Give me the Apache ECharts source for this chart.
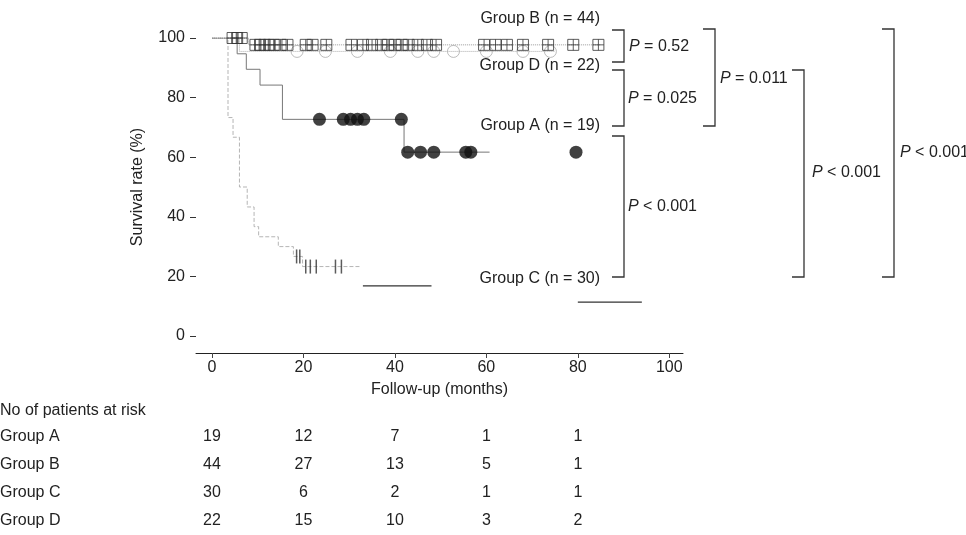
<!DOCTYPE html>
<html>
<head>
<meta charset="utf-8">
<script src="https://cdn.jsdelivr.net/npm/echarts@6.0.0/dist/echarts.min.js"></script>
<style>
  html, body { margin: 0; padding: 0; background: #fff; }
  #c { width: 966px; height: 535px; }
</style>
</head>
<body>
<div id="c"></div>
<script>
// ---- data ----
var xTicks = [0, 20, 40, 60, 80, 100];

// Kaplan-Meier steps [month, survival %]
var groupA = [[0, 100], [5.5, 94.7], [7.5, 89.5], [10.5, 84.2], [15.4, 72.7], [42, 61.7], [60.7, 61.7]];
var groupB = [[0, 100], [8, 97.7], [85, 97.7]];
var groupC = [[0, 100], [3.5, 73.3], [4.6, 66.7], [6, 50], [7.7, 43.3], [9.2, 36.7], [10.2, 33.3],
  [14.5, 30], [17.8, 26.7], [19.8, 23.3], [32.5, 23.3]];
var groupCLate1 = [[33, 16.8], [48, 16.8]];
var groupCLate2 = [[80, 11.4], [94, 11.4]];
var groupD = [[0, 100], [6, 95.5], [75, 95.5]];

// censored observations
var censorA = [[23.5, 72.7], [28.7, 72.7], [30.3, 72.7], [31.8, 72.7], [33.2, 72.7], [41.4, 72.7],
  [42.8, 61.7], [45.6, 61.7], [48.5, 61.7], [55.5, 61.7], [56.6, 61.7], [79.6, 61.7]];
var censorB = [[4.5, 100], [5.5, 100], [6.5, 100],
  [9.5, 97.7], [10.5, 97.7], [11.5, 97.7], [12.5, 97.7], [13.5, 97.7], [15, 97.7], [16.5, 97.7],
  [20.5, 97.7], [22, 97.7], [25, 97.7], [30.5, 97.7], [33, 97.7], [35, 97.7], [37, 97.7],
  [38.5, 97.7], [40, 97.7], [41.5, 97.7], [43, 97.7], [45, 97.7], [47, 97.7], [49, 97.7],
  [59.5, 97.7], [62, 97.7], [64.5, 97.7], [68, 97.7], [73.5, 97.7], [79, 97.7], [84.5, 97.7]];
var censorC = [[18.5, 26.7], [19.2, 26.7], [20.5, 23.3], [21.5, 23.3], [22.8, 23.3], [27, 23.3], [28.3, 23.3]];
var censorD = [[18.6, 95.5], [24.8, 95.5], [31.8, 95.5], [39, 95.5], [45, 95.5], [48.5, 95.5],
  [52.8, 95.5], [60, 95.5], [68, 95.5], [74, 95.5]];

var groupLabels = ['Group B (n = 44)', 'Group D (n = 22)', 'Group A (n = 19)', 'Group C (n = 30)'];
var pLabels = ['= 0.52', '= 0.025', '< 0.001', '= 0.011', '< 0.001', '< 0.001'];

var riskTimes = [0, 20, 40, 60, 80];
var riskNames = ['Group A', 'Group B', 'Group C', 'Group D'];
var riskA = [19, 12, 7, 1, 1];
var riskB = [44, 27, 13, 5, 1];
var riskC = [30, 6, 2, 1, 1];
var riskD = [22, 15, 10, 3, 2];

// ---- chart ----
var FONT = '"Liberation Sans", Arial, Helvetica, sans-serif';
var TXT = '#222';
var chart = echarts.init(document.getElementById('c'));

function kmLine(data, color, type, width) {
  return {
    type: 'line', step: 'end', data: data, symbol: 'none', silent: true,
    lineStyle: { color: color, type: type, width: width || 1 }, z: 2
  };
}

var option = {
  animation: false,
  textStyle: { fontFamily: FONT },
  grid: { left: 196, right: 283, top: 38, bottom: 199 },
  xAxis: {
    type: 'value', min: -3.5, max: 103, offset: 17,
    axisLine: { onZero: false, lineStyle: { color: '#222', width: 1 } },
    axisTick: { customValues: xTicks, length: 5, lineStyle: { color: '#444' } },
    axisLabel: { customValues: xTicks, margin: 7, fontSize: 16, color: TXT, fontFamily: FONT },
    splitLine: { show: false },
    name: 'Follow-up (months)', nameLocation: 'middle', nameGap: 29,
    nameTextStyle: { fontSize: 16, color: TXT, fontFamily: FONT }
  },
  yAxis: {
    type: 'value', min: 0, max: 100, interval: 20,
    axisLine: { show: false, onZero: false },
    axisTick: { show: true, length: 6, lineStyle: { color: '#333' } },
    axisLabel: { margin: 11, fontSize: 16, color: TXT, fontFamily: FONT },
    splitLine: { show: false },
    name: 'Survival rate (%)', nameLocation: 'middle', nameGap: 50,
    nameTextStyle: { fontSize: 16, color: TXT, fontFamily: FONT }
  },
  series: [
    kmLine(groupB, '#9a9a9a', 'dotted'),
    kmLine(groupD, '#aaaaaa', 'dotted'),
    kmLine(groupC, '#b5b5b5', 'dashed'),
    kmLine(groupCLate1, '#333', 'solid', 1.2),
    kmLine(groupCLate2, '#333', 'solid', 1.2),
    kmLine(groupA, '#777', 'solid'),
    {
      type: 'scatter', data: censorD, symbol: 'circle', symbolSize: 12, silent: true,
      itemStyle: { color: 'rgba(0,0,0,0)', borderColor: '#aaa', borderWidth: 1 }, z: 3
    },
    {
      type: 'scatter', data: censorB, symbol: 'path://M0 0H10V10H0ZM5 0V10M0 5H10', symbolSize: 11, silent: true,
      itemStyle: { color: 'rgba(0,0,0,0)', borderColor: '#333', borderWidth: 1 }, z: 4
    },
    {
      type: 'scatter', data: censorC, symbol: 'rect', symbolSize: [1.5, 14], silent: true,
      itemStyle: { color: '#333' }, z: 3
    },
    {
      type: 'scatter', data: censorA, symbol: 'circle', symbolSize: 13, silent: true,
      itemStyle: { color: '#111' }, z: 5
    }
  ]
};
chart.setOption(option);

// ---- annotations: group labels, comparison brackets, numbers at risk ----
var g = [];
var labelY = [19, 66, 126, 279];
groupLabels.forEach(function (t, i) {
  g.push({ type: 'text', x: 600, y: labelY[i], style: { text: t, font: '16px ' + FONT, fill: TXT, align: 'right', verticalAlign: 'middle' } });
});

// bracket layout: [x, yTop, yBottom, labelX, labelY]
var brackets = [[624, 30, 62, 629, 47], [624, 70, 126, 628, 99], [624, 136, 277, 628, 207],
  [715, 29, 126, 720, 79], [804, 70, 277, 812, 173], [894, 29, 277, 900, 153]];
brackets.forEach(function (b, i) {
  g.push({ type: 'polyline', shape: { points: [[b[0] - 12, b[1]], [b[0], b[1]], [b[0], b[2]], [b[0] - 12, b[2]]] },
    style: { stroke: '#333', lineWidth: 1.3, fill: null } });
  g.push({ type: 'text', x: b[3], y: b[4], style: {
    text: '{i|P} ' + pLabels[i], verticalAlign: 'middle', fill: TXT, font: '16px ' + FONT,
    rich: { i: { fontStyle: 'italic', fontSize: 16, fontFamily: FONT, fill: TXT } } } });
});

g.push({ type: 'text', x: 0, y: 411, style: { text: 'No of patients at risk', font: '16px ' + FONT, fill: TXT, verticalAlign: 'middle' } });
var riskRows = [riskA, riskB, riskC, riskD];
var rowY = [437, 465, 493, 521];
riskRows.forEach(function (row, r) {
  g.push({ type: 'text', x: 0, y: rowY[r], style: { text: riskNames[r], font: '16px ' + FONT, fill: TXT, verticalAlign: 'middle' } });
  row.forEach(function (n, k) {
    var px = chart.convertToPixel({ xAxisIndex: 0 }, riskTimes[k]);
    g.push({ type: 'text', x: px, y: rowY[r], style: { text: String(n), font: '16px ' + FONT, fill: TXT, align: 'center', verticalAlign: 'middle' } });
  });
});
chart.setOption({ graphic: g });
</script>
</body>
</html>
